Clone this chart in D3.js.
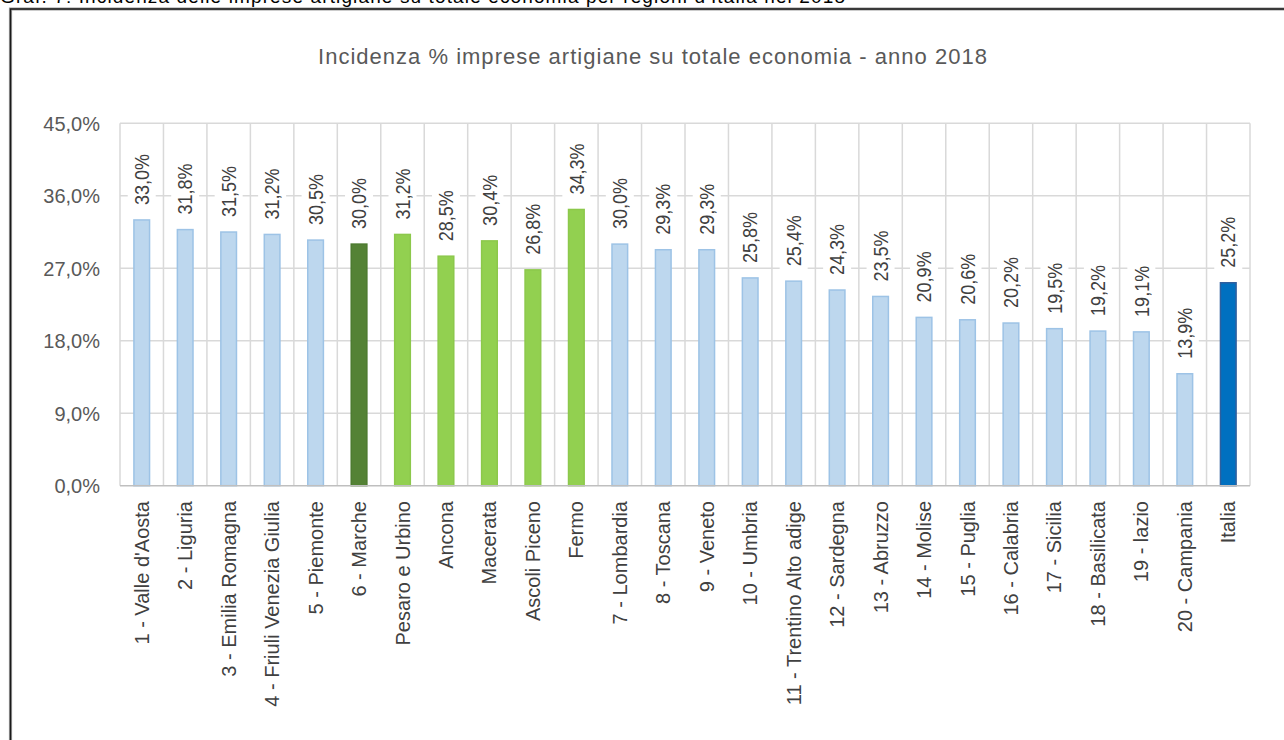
<!DOCTYPE html>
<html>
<head>
<meta charset="utf-8">
<script src="https://cdn.jsdelivr.net/npm/d3@7"></script>
<style>
  html, body { margin: 0; padding: 0; background: #ffffff; }
  svg { display: block; font-family: "Liberation Sans", Arial, sans-serif; }
</style>
</head>
<body>
<svg id="chart" width="1284" height="740"></svg>
<script>
// Incidenza % delle imprese artigiane sul totale delle imprese, anno 2018
const categories = [
  "1 - Valle d'Aosta", "2 - Liguria", "3 - Emilia Romagna", "4 - Friuli Venezia Giulia",
  "5 - Piemonte", "6 - Marche", "Pesaro e Urbino", "Ancona", "Macerata", "Ascoli Piceno",
  "Fermo", "7 - Lombardia", "8 - Toscana", "9 - Veneto", "10 - Umbria",
  "11 - Trentino Alto adige", "12 - Sardegna", "13 - Abruzzo", "14 - Molise", "15 - Puglia",
  "16 - Calabria", "17 - Sicilia", "18 - Basilicata", "19 - lazio", "20 - Campania", "Italia"
];
const values = [
  33.0, 31.8, 31.5, 31.2, 30.5, 30.0, 31.2, 28.5, 30.4, 26.8,
  34.3, 30.0, 29.3, 29.3, 25.8, 25.4, 24.3, 23.5, 20.9, 20.6,
  20.2, 19.5, 19.2, 19.1, 13.9, 25.2
];
// livello territoriale di ciascuna voce
const levels = [
  "regione", "regione", "regione", "regione", "regione", "marche", "provincia", "provincia",
  "provincia", "provincia", "provincia", "regione", "regione", "regione", "regione",
  "regione", "regione", "regione", "regione", "regione", "regione", "regione", "regione",
  "regione", "regione", "italia"
];
const yTicks = [0, 9, 18, 27, 36, 45];

const caption = "Graf. 7: Incidenza delle imprese artigiane su totale economia per regioni d'Italia nel 2018";
const title = "Incidenza % imprese artigiane su totale economia - anno 2018";

const fillBy = { regione: "#bdd7ee", marche: "#548235", provincia: "#92d050", italia: "#0070c0" };
const strokeBy = { regione: "#9dc3e6", marche: "#4c7a2f", provincia: "#8cc84b", italia: "#2f5f9e" };

const fmt = v => d3.format(".1f")(v).replace(".", ",") + "%";

const svg = d3.select("#chart");

// didascalia in testa (tagliata dal bordo superiore)
svg.append("text")
  .attr("x", 0).attr("y", 3)
  .attr("font-size", 19)
  .attr("textLength", 845).attr("lengthAdjust", "spacing")
  .attr("fill", "#000")
  .text(caption);

// cornice del grafico
const frame = `M10.5,740 L10.5,9 L1284,9`;
svg.append("path").attr("d", frame).attr("fill", "none")
  .attr("stroke", "#9a9a9a").attr("stroke-width", 3.2);
svg.append("path").attr("d", frame).attr("fill", "none")
  .attr("stroke", "#1a1a1a").attr("stroke-width", 1.4);

// titolo
svg.append("text")
  .attr("x", 318).attr("y", 64)
  .attr("font-size", 22)
  .attr("textLength", 669).attr("lengthAdjust", "spacing")
  .attr("fill", "#595959")
  .text(title);

const plot = { left: 120, right: 1250, top: 123.3, bottom: 485.7 };

const x = d3.scaleBand()
  .domain(categories)
  .range([plot.left, plot.right])
  .padding(0);

const y = d3.scaleLinear()
  .domain([0, 45])
  .range([plot.bottom, plot.top]);

const g = svg.append("g");

// griglia orizzontale
g.append("g")
  .selectAll("line")
  .data(yTicks.filter(t => t > 0))
  .join("line")
  .attr("x1", plot.left).attr("x2", plot.right)
  .attr("y1", d => y(d)).attr("y2", d => y(d))
  .attr("stroke", "#d9d9d9").attr("stroke-width", 1.5);

// griglia verticale ai confini delle categorie
const bounds = categories.map(c => x(c)).concat([plot.right]);
g.append("g")
  .selectAll("line")
  .data(bounds)
  .join("line")
  .attr("x1", d => d).attr("x2", d => d)
  .attr("y1", plot.top).attr("y2", plot.bottom)
  .attr("stroke", "#d9d9d9").attr("stroke-width", 1.5);

// asse y
const yAxis = d3.axisLeft(y)
  .tickValues(yTicks)
  .tickSize(0)
  .tickPadding(0)
  .tickFormat(d => d3.format(".1f")(d).replace(".", ",") + "%");
const ya = svg.append("g")
  .attr("transform", `translate(100,0)`)
  .call(yAxis)
  .attr("font-family", "Liberation Sans, Arial, sans-serif")
  .attr("font-size", 20);
ya.select(".domain").remove();
ya.selectAll("text")
  .attr("fill", "#595959")
  .attr("dy", "0.36em");

// barre
const barW = x.bandwidth() * 0.36;
const data = categories.map((c, i) => ({ c, v: values[i], level: levels[i] }));

g.append("g")
  .selectAll("rect")
  .data(data)
  .join("rect")
  .attr("x", d => x(d.c) + (x.bandwidth() - barW) / 2)
  .attr("width", barW)
  .attr("y", d => y(d.v))
  .attr("height", d => y(0) - y(d.v))
  .attr("fill", d => fillBy[d.level])
  .attr("stroke", d => strokeBy[d.level])
  .attr("stroke-width", 1.5);

// linea di base
g.append("line")
  .attr("x1", plot.left).attr("x2", plot.right)
  .attr("y1", y(0)).attr("y2", y(0))
  .attr("stroke", "#bfbfbf").attr("stroke-width", 1.6);

// etichette dei valori (ruotate, su fondo bianco)
const labelFont = 20, labelScale = 0.9;
const labels = g.append("g")
  .selectAll("g")
  .data(data)
  .join("g")
  .attr("transform", d => `translate(${x(d.c) + x.bandwidth() / 2},${y(d.v) - 15})`);

labels.each(function (d) {
  const sel = d3.select(this);
  const t = sel.append("text")
    .attr("transform", `rotate(-90) scale(${labelScale},1)`)
    .attr("x", 0).attr("y", labelFont * 0.36)
    .attr("font-size", labelFont)
    .attr("fill", "#404040")
    .text(fmt(d.v));
  const len = t.node().getComputedTextLength() * labelScale;
  sel.insert("rect", "text")
    .attr("x", -14).attr("width", 28)
    .attr("y", -len - 4).attr("height", len + 8)
    .attr("fill", "#ffffff");
});

// etichette delle categorie
svg.append("g")
  .selectAll("text")
  .data(categories)
  .join("text")
  .attr("transform", d => `translate(${x(d) + x.bandwidth() / 2 + 7},501) rotate(-90)`)
  .attr("text-anchor", "end")
  .attr("font-size", 20)
  .attr("fill", "#404040")
  .text(d => d);
</script>
</body>
</html>
